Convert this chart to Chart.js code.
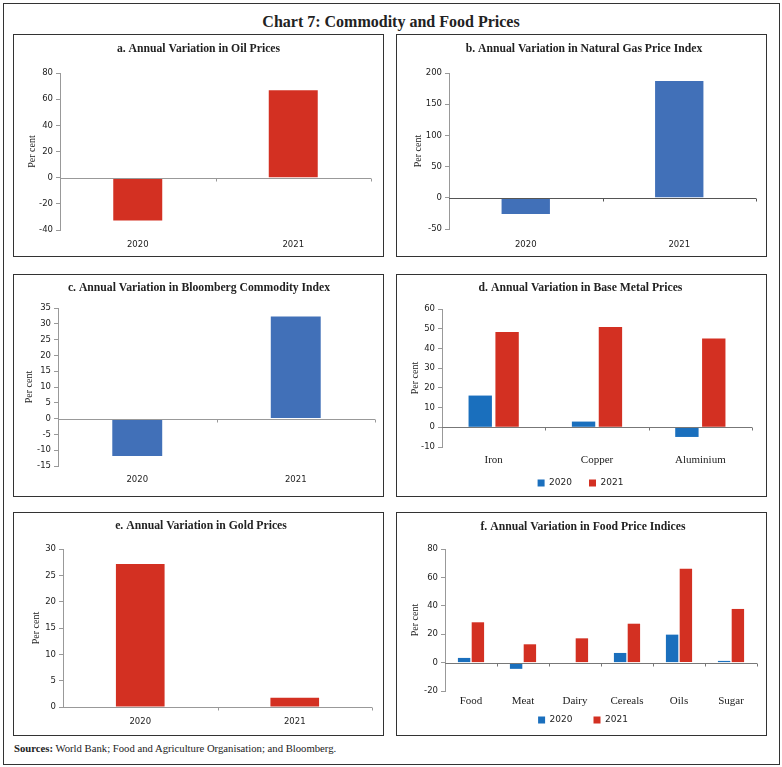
<!DOCTYPE html>
<html>
<head>
<meta charset="utf-8">
<script src="https://cdn.jsdelivr.net/npm/chart.js@4.4.1/dist/chart.umd.min.js"></script>
<style>
body { margin: 0; background: #fff; width: 782px; height: 767px; position: relative; font-family: "Liberation Serif", serif; }
.frame { position: absolute; left: 3px; top: 3px; width: 775px; height: 760px; border: 1px solid #333; }
.main-title { position: absolute; left: 0; width: 782px; top: 13px; text-align: center; font-weight: bold; font-size: 16px; color: #222; }
.panel { position: absolute; border: 1px solid #333; background: #fff; }
.panel canvas { display: block; }
.sources { position: absolute; left: 14px; top: 742px; font-size: 10.7px; color: #222; }
</style>
</head>
<body>
<div class="frame"></div>
<div class="main-title">Chart 7: Commodity and Food Prices</div>
<div class="panel" style="left:13px;top:34px;width:369px;height:221px"><canvas id="ca" width="369" height="221"></canvas></div>
<div class="panel" style="left:396px;top:34px;width:369px;height:221px"><canvas id="cb" width="369" height="221"></canvas></div>
<div class="panel" style="left:13px;top:274px;width:369px;height:221px"><canvas id="cc" width="369" height="221"></canvas></div>
<div class="panel" style="left:396px;top:274px;width:369px;height:221px"><canvas id="cd" width="369" height="221"></canvas></div>
<div class="panel" style="left:13px;top:512px;width:369px;height:222px"><canvas id="ce" width="369" height="222"></canvas></div>
<div class="panel" style="left:396px;top:512px;width:369px;height:222px"><canvas id="cf" width="369" height="222"></canvas></div>
<div class="sources"><b>Sources:</b> World Bank; Food and Agriculture Organisation; and Bloomberg.</div>

<script>
// data
const years = ["2020", "2021"];
const oilPrices = [-32.8, 66.8];
const natGasIndex = [-26, 187.4];
const bloombergIndex = [-11.8, 32.3];
const goldPrices = [27.15, 1.77];

const metals = ["Iron", "Copper", "Aluminium"];
const metals2020 = [16.1, 2.9, -4.9];
const metals2021 = [48.3, 50.9, 45.1];

const foods = ["Food", "Meat", "Dairy", "Cereals", "Oils", "Sugar"];
const food2020 = [3.3, -4.4, -0.9, 6.8, 19.7, 1.2];
const food2021 = [28.4, 12.9, 17.1, 27.4, 66.2, 37.8];

const RED = "#d33022";
const BLUE = "#4170b8";
const BLUE2 = "#1a6fbd";
const AXIS = "#999";

// zero line plus the little ticks between categories
const zeroTicks = {
    id: "zeroTicks",
    afterDatasetsDraw(chart, args, o) {
        const x = chart.scales.x, y = chart.scales.y;
        const ctx = chart.ctx;
        const y0 = Math.round(y.getPixelForValue(0)) + 0.5;
        const n = chart.data.labels.length;
        ctx.save();
        ctx.strokeStyle = o.color || AXIS;
        ctx.lineWidth = 1;
        ctx.beginPath();
        ctx.moveTo(chart.chartArea.left, y0);
        ctx.lineTo(chart.chartArea.right, y0);
        for (let i = 1; i <= n; i++) {
            let px = i < n ? (x.getPixelForValue(i - 1) + x.getPixelForValue(i)) / 2 : chart.chartArea.right;
            px = Math.round(px) + 0.5;
            ctx.moveTo(px, y0);
            ctx.lineTo(px, y0 + 3);
        }
        ctx.stroke();
        ctx.restore();
    }
};

// g = geometry of the panel: left pad, y axis width, right pad, title pads, x axis height, etc.
function makeChart(id, title, labels, datasets, yMin, yMax, step, g) {
    new Chart(document.getElementById(id), {
        type: "bar",
        data: { labels: labels, datasets: datasets },
        options: {
            responsive: false,
            animation: false,
            layout: { padding: { left: g.left, right: g.right, top: 0, bottom: g.bottom || 0 } },
            datasets: { bar: { categoryPercentage: g.cp || 1, barPercentage: g.bp || 0.315 } },
            plugins: {
                title: {
                    display: true, text: title, color: "#222",
                    font: { family: "Liberation Serif", weight: "bold", size: 11.7, lineHeight: 1.2 },
                    padding: { top: g.tTop, bottom: g.tBottom }
                },
                legend: {
                    display: !!g.legend, position: "bottom",
                    labels: { boxWidth: 7, boxHeight: 7, color: "#222", padding: g.legPad || 12, font: { family: "DejaVu Sans", size: 9 } }
                },
                tooltip: { enabled: false },
                zeroTicks: { color: g.zeroColor }
            },
            scales: {
                x: {
                    grid: { display: false, drawTicks: false },
                    border: { display: false },
                    ticks: { color: "#222", padding: g.xPad, maxRotation: 0, font: g.xFont || { family: "DejaVu Sans", size: 8.5 } },
                    afterFit: s => {
                        s.height = g.xH;
                        s._computeLabelArea = () => null; // labels may spill into the legend space
                    }
                },
                y: {
                    min: yMin, max: yMax,
                    grid: { color: "transparent", tickColor: AXIS, tickLength: 4 },
                    border: { display: true, color: AXIS },
                    ticks: { stepSize: step, color: "#222", padding: 3, font: { family: "DejaVu Sans", size: 8.5 } },
                    title: { display: true, text: "Per cent", color: "#222", padding: 0, font: { family: "Liberation Serif", size: 10, lineHeight: 1.2 } },
                    afterFit: s => { s.width = g.yW; }
                }
            }
        },
        plugins: [zeroTicks]
    });
}

makeChart("ca", "a. Annual Variation in Oil Prices", years,
    [{ data: oilPrices, backgroundColor: RED }], -40, 80, 20,
    { left: 12, yW: 34, right: 12, tTop: 7, tBottom: 17, xH: 26, xPad: 9.8 });
makeChart("cb", "b. Annual Variation in Natural Gas Price Index", years,
    [{ data: natGasIndex, backgroundColor: BLUE }], -50, 200, 50,
    { left: 15, yW: 37, right: 10, tTop: 7, tBottom: 17, xH: 27, xPad: 10.3, zeroColor: "#555" });
makeChart("cc", "c. Annual Variation in Bloomberg Commodity Index", years,
    [{ data: bloombergIndex, backgroundColor: BLUE }], -15, 35, 5,
    { left: 9, yW: 35, right: 8, tTop: 5.7, tBottom: 13.3, xH: 30, xPad: 8.5 });
makeChart("cd", "d. Annual Variation in Base Metal Prices", metals,
    [{ label: "2020", data: metals2020, backgroundColor: BLUE2 },
     { label: "2021", data: metals2021, backgroundColor: RED }], -10, 60, 10,
    { left: 12, yW: 33, right: 14, tTop: 6.3, tBottom: 13.7, xH: 14.5, xPad: 6.4, bottom: -1.5,
      cp: 0.52, bp: 0.87, legend: true, legPad: 17, zeroColor: "#777", xFont: { family: "Liberation Serif", size: 11 } });
makeChart("ce", "e. Annual Variation in Gold Prices", years,
    [{ data: goldPrices, backgroundColor: RED }], 0, 30, 5,
    { left: 16, yW: 33, right: 11, tTop: 6, tBottom: 16, xH: 28, xPad: 9.5 });
makeChart("cf", "f. Annual Variation in Food Price Indices", foods,
    [{ label: "2020", data: food2020, backgroundColor: BLUE2 },
     { label: "2021", data: food2021, backgroundColor: RED }], -20, 80, 20,
    { left: 12, yW: 36, right: 9, tTop: 6.7, tBottom: 15.3, xH: 3.5, xPad: 3.4, bottom: 0.5,
      cp: 0.53, bp: 0.9, legend: true, legPad: 21, zeroColor: "#777", xFont: { family: "Liberation Serif", size: 11 } });
</script>
</body>
</html>
